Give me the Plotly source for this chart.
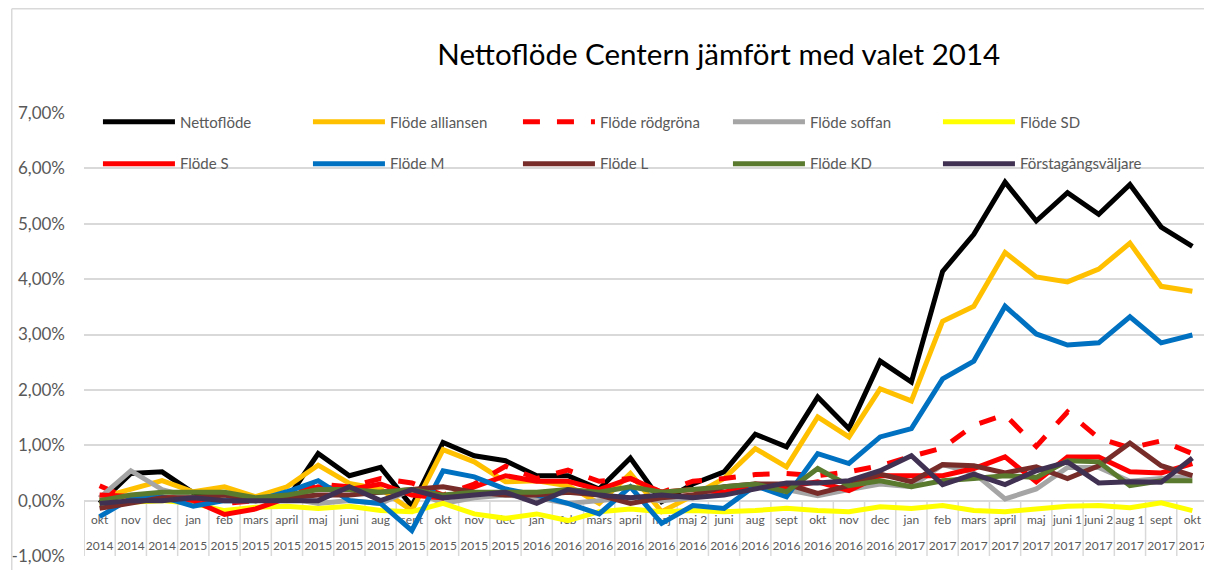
import plotly.graph_objects as go

months = ["okt", "nov", "dec", "jan", "feb", "mars", "april", "maj", "juni", "aug", "sept", "okt",
          "nov", "dec", "jan", "feb", "mars", "april", "maj", "maj 2", "juni", "aug", "sept", "okt",
          "nov", "dec", "jan", "feb", "mars", "april", "maj", "juni 1", "juni 2", "aug 1", "sept", "okt"]
years = ["2014", "2014", "2014", "2015", "2015", "2015", "2015", "2015", "2015", "2015", "2015", "2015",
         "2015", "2015", "2016", "2016", "2016", "2016", "2016", "2016", "2016", "2016", "2016", "2016",
         "2016", "2016", "2017", "2017", "2017", "2017", "2017", "2017", "2017", "2017", "2017", "2017"]
categories = [f"{m} {y}" for m, y in zip(months, years)]

# values in percent
nettoflode = [-0.05, 0.49, 0.52, 0.14, 0.10, 0.02, 0.02, 0.85, 0.45, 0.60, -0.10, 1.05,
              0.81, 0.72, 0.45, 0.45, 0.21, 0.77, -0.02, 0.30, 0.52, 1.20, 0.97, 1.87,
              1.30, 2.52, 2.14, 4.14, 4.81, 5.75, 5.05, 5.56, 5.17, 5.71, 4.94, 4.59]
alliansen = [0.05, 0.20, 0.36, 0.16, 0.25, 0.07, 0.25, 0.64, 0.31, 0.21, -0.18, 0.92,
             0.70, 0.34, 0.36, 0.27, -0.05, 0.49, -0.20, 0.09, 0.40, 0.94, 0.61, 1.51,
             1.15, 2.02, 1.80, 3.24, 3.51, 4.48, 4.04, 3.95, 4.18, 4.65, 3.87, 3.78]
rodgrona = [0.27, 0.02, 0.05, 0.05, -0.05, 0.00, 0.10, 0.30, 0.25, 0.40, 0.32, 0.10,
            0.30, 0.62, 0.40, 0.55, 0.35, 0.40, 0.15, 0.35, 0.40, 0.47, 0.49, 0.45,
            0.52, 0.63, 0.80, 0.95, 1.36, 1.55, 0.98, 1.60, 1.13, 0.95, 1.08, 0.85]
soffan = [0.05, 0.54, 0.20, 0.05, 0.05, 0.00, 0.05, -0.05, 0.00, -0.05, 0.20, -0.05,
          0.05, 0.10, 0.05, -0.05, 0.00, 0.05, 0.00, 0.05, 0.15, 0.25, 0.20, 0.09,
          0.20, 0.30, 0.25, 0.65, 0.50, 0.03, 0.21, 0.60, 0.60, 0.35, 0.40, 0.45]
sd = [-0.05, -0.02, 0.00, -0.05, -0.18, -0.12, -0.10, -0.14, -0.10, -0.18, -0.20, -0.05,
      -0.24, -0.32, -0.24, -0.36, -0.20, -0.15, -0.20, -0.18, -0.20, -0.18, -0.14, -0.18,
      -0.20, -0.11, -0.14, -0.09, -0.18, -0.20, -0.16, -0.10, -0.09, -0.13, -0.04, -0.18]
s = [0.10, 0.08, 0.05, 0.00, -0.25, -0.15, 0.05, 0.25, 0.20, 0.30, 0.10, 0.05,
     0.25, 0.45, 0.35, 0.35, 0.20, 0.40, 0.15, 0.20, 0.15, 0.30, 0.25, 0.34,
     0.18, 0.45, 0.45, 0.45, 0.58, 0.79, 0.34, 0.79, 0.79, 0.52, 0.50, 0.67]
m = [-0.29, 0.04, 0.07, -0.10, 0.00, 0.00, 0.16, 0.36, 0.00, -0.05, -0.54, 0.54,
     0.43, 0.21, 0.10, -0.05, -0.24, 0.25, -0.41, -0.09, -0.14, 0.27, 0.07, 0.85,
     0.67, 1.15, 1.30, 2.20, 2.52, 3.51, 3.01, 2.81, 2.85, 3.32, 2.85, 2.99]
l = [-0.14, -0.05, 0.05, 0.05, 0.10, 0.00, 0.05, 0.10, 0.10, 0.15, 0.20, 0.25,
     0.15, 0.10, 0.10, 0.15, 0.10, -0.05, 0.05, 0.10, 0.25, 0.30, 0.30, 0.13,
     0.27, 0.48, 0.34, 0.65, 0.63, 0.50, 0.61, 0.40, 0.63, 1.04, 0.63, 0.45]
kd = [0.00, 0.10, 0.15, 0.15, 0.15, 0.05, 0.10, 0.20, 0.20, 0.15, 0.20, 0.10,
      0.15, 0.15, 0.15, 0.20, 0.15, 0.25, 0.15, 0.20, 0.25, 0.30, 0.16, 0.58,
      0.27, 0.36, 0.25, 0.36, 0.40, 0.45, 0.42, 0.72, 0.70, 0.27, 0.36, 0.36]
forsta = [-0.05, 0.00, 0.00, 0.05, 0.00, 0.00, 0.00, 0.00, 0.25, 0.00, 0.20, 0.05,
          0.10, 0.15, -0.05, 0.20, 0.10, 0.05, 0.10, 0.05, 0.10, 0.20, 0.32, 0.32,
          0.36, 0.54, 0.81, 0.29, 0.48, 0.29, 0.54, 0.70, 0.32, 0.34, 0.33, 0.77]

series = [
    ("Nettoflöde", nettoflode, "#000000", "solid", "legend"),
    ("Flöde alliansen", alliansen, "#FFC000", "solid", "legend"),
    ("Flöde rödgröna", rodgrona, "#FF0000", "17px,17px", "legend"),
    ("Flöde soffan", soffan, "#A5A5A5", "solid", "legend"),
    ("Flöde SD", sd, "#FFFF00", "solid", "legend"),
    ("Flöde S", s, "#FF0000", "solid", "legend2"),
    ("Flöde M", m, "#0070C0", "solid", "legend2"),
    ("Flöde L", l, "#772C2A", "solid", "legend2"),
    ("Flöde KD", kd, "#5A7A2E", "solid", "legend2"),
    ("Förstagångsväljare", forsta, "#403152", "solid", "legend2"),
]

FONT = "Lato, 'Liberation Sans', sans-serif"
GRID = "#D9D9D9"
TXT = "#595959"

# page body has an 8px margin: figure occupies screen 8..1212 x 8..570
OFF = 8
W, H = 1212 - OFF, 570 - OFF
PL, PR, PT, PB = 80, 1208, 113, 557  # plot area in screen pixels
PW, PH = PR - PL, PB - PT

fig = go.Figure()
for name, vals, color, dash, lg in series:
    fig.add_trace(go.Scatter(
        x=categories, y=vals, name=name, mode="lines",
        line=dict(color=color, width=5, dash=dash),
        legend=lg,
    ))

ITEMW = 72
ENTRYW = 209 - ITEMW - 14
LEGX = (94 - PL) / PW

ytick = list(range(-1, 8))
fig.update_layout(
    width=W, height=H,
    margin=dict(l=PL - OFF, r=1212 - PR, t=PT - OFF, b=570 - PB),
    paper_bgcolor="white", plot_bgcolor="white",
    font=dict(family=FONT, color=TXT),
    title=dict(text="Nettoflöde Centern jämfört med valet 2014",
               font=dict(family=FONT, size=29.5, color="#000000"),
               xref="paper", x=(717 - PL) / PW, xanchor="center",
               yref="container", y=1 - (55 - OFF) / H, yanchor="middle"),
    yaxis=dict(range=[-1, 7], tickvals=ytick,
               ticktext=[f"{v},00%" for v in ytick],
               showgrid=True, gridcolor=GRID, gridwidth=1.5, zeroline=False,
               ticks="", ticklabelstandoff=18, tickfont=dict(size=17, color=TXT),
               fixedrange=True),
    xaxis=dict(type="category", categoryorder="array", categoryarray=categories,
               range=[-0.5, 35.5], anchor="free", position=0.125,
               tickmode="array", tickvals=categories, ticktext=months,
               showgrid=False, showline=False, ticks="", ticklabelstandoff=10,
               tickangle=0, tickfont=dict(size=12, color=TXT), layer="below traces"),
    xaxis2=dict(overlaying="x", range=[-0.5, 35.5], anchor="free", position=0.125,
                side="bottom", tickmode="array", tickvals=list(range(36)), ticktext=years,
                showgrid=False, showline=False, zeroline=False, ticks="", ticklabelstandoff=36,
                ticklabeloverflow="allow",
                tickangle=0, tickfont=dict(size=12, color=TXT), layer="below traces"),
    legend=dict(orientation="h", x=LEGX, xanchor="left",
                y=(PB - 122) / PH, yanchor="middle",
                entrywidth=ENTRYW, entrywidthmode="pixels", itemwidth=ITEMW,
                font=dict(size=15, color=TXT), bgcolor="rgba(0,0,0,0)"),
    legend2=dict(orientation="h", x=LEGX, xanchor="left",
                 y=(PB - 164) / PH, yanchor="middle",
                 entrywidth=ENTRYW, entrywidthmode="pixels", itemwidth=ITEMW,
                 font=dict(size=15, color=TXT), bgcolor="rgba(0,0,0,0)"),
    showlegend=True,
)

# table cell borders under the x axis labels
shapes = []
for i in range(37):
    shapes.append(dict(type="line", xref="x", yref="y", x0=i - 0.5, x1=i - 0.5, y0=-1, y1=0,
                       line=dict(color=GRID, width=1.5), layer="below"))
# left table edge also referenced on the year axis (keeps that axis drawn)
shapes.append(dict(type="line", xref="x2", yref="y", x0=-0.5, x1=-0.5, y0=-1, y1=0,
                   line=dict(color=GRID, width=1.5), layer="below"))
# chart border (left and top)
bx = (7.5 - PL) / PW
by = (PB - 8.5) / PH
shapes.append(dict(type="line", xref="paper", yref="paper", x0=bx, x1=bx, y0=by, y1=-1,
                   line=dict(color=GRID, width=1.5)))
shapes.append(dict(type="line", xref="paper", yref="paper", x0=bx, x1=2, y0=by, y1=by,
                   line=dict(color=GRID, width=1.5)))
fig.update_layout(shapes=shapes)

fig.write_html("out.html")
